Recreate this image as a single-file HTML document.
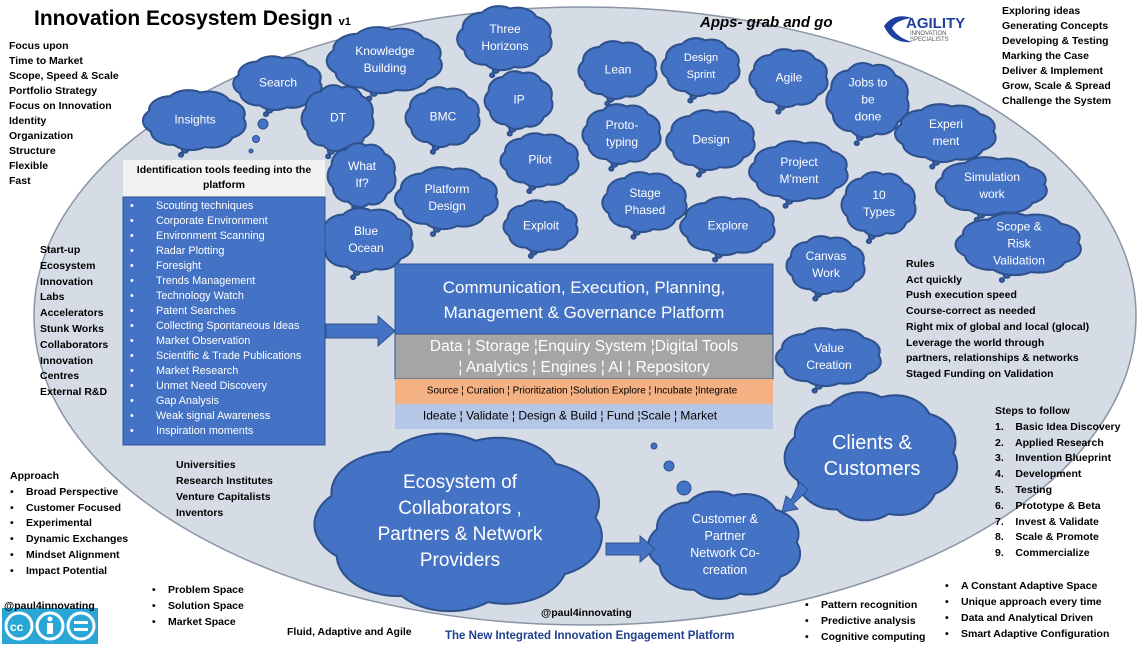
<!DOCTYPE html>
<html><head><meta charset="utf-8">
<style>
body{margin:0;width:1146px;height:644px;overflow:hidden;background:#fff;font-family:"Liberation Sans",sans-serif;position:relative}
.t{position:absolute;font-weight:bold;font-size:10.5px;line-height:15px;color:#000;white-space:nowrap}
.c{position:absolute;color:#fff;text-align:center;font-size:12px;line-height:17px;transform:translate(-50%,-50%);white-space:nowrap}
ul{margin:0;padding:0;list-style:none}
.b li:before{content:"•";display:inline-block;width:16px}
.w li:before{content:"•";display:inline-block;width:26px}
</style></head><body>
<svg id="s" width="1146" height="644" style="position:absolute;left:0;top:0">
<ellipse cx="585" cy="316" rx="551" ry="309" fill="#d6dce5" stroke="#8a94a4" stroke-width="1.5"/>
<g id="cl"></g>
<rect x="123" y="160" width="202" height="37" fill="#f2f2f2"/>
<rect x="123" y="197" width="202" height="248" fill="#4472c4" stroke="#2f528f"/>
<rect x="395" y="264" width="378" height="70" fill="#4472c4" stroke="#2f528f"/>
<rect x="395" y="334" width="378" height="45" fill="#a5a5a5" stroke="#2f528f"/>
<rect x="395" y="379" width="378" height="25" fill="#f4b183"/>
<rect x="395" y="404" width="378" height="25" fill="#b4c7e7"/>
<polygon points="326,324 378,324 378,316 395,331 378,346 378,338 326,338" fill="#4472c4" stroke="#2f528f"/>
<polygon points="606,543 640,543 640,536 655,549 640,562 640,555 606,555" fill="#4472c4" stroke="#2f528f"/>
<polygon points="800,482 808,490 793,504 798,509 782,512 786,496 791,500" fill="#4472c4" stroke="#2f528f"/>
<g fill="#4472c4" stroke="#2f528f">
<circle cx="654" cy="446" r="3"/><circle cx="669" cy="466" r="5"/><circle cx="684" cy="488" r="7"/>
<circle cx="263" cy="124" r="5"/><circle cx="256" cy="139" r="3.5"/><circle cx="251" cy="151" r="2"/>
</g>
<text x="700" y="27" font-family="Liberation Sans" font-weight="bold" font-style="italic" font-size="15">Apps- grab and go</text>
<g transform="translate(884,12)">
<path d="M0 14 Q10 0 28 6 Q12 8 8 16 Q14 26 28 30 Q8 32 0 14Z" fill="#1f3f9f"/>
<text x="22" y="16" font-size="15" font-weight="bold" fill="#1f3fa0" font-family="Liberation Sans">AGILITY</text>
<text x="26" y="23" font-size="6" fill="#555" font-family="Liberation Sans">INNOVATION</text>
<text x="26" y="29" font-size="6" fill="#555" font-family="Liberation Sans">SPECIALISTS</text>
</g>
<g transform="translate(2,608)">
<rect width="96" height="36" fill="#2aa6d6"/>
<circle cx="17" cy="18" r="13" fill="none" stroke="#fff" stroke-width="3"/><text x="8" y="23" font-size="12" font-weight="bold" fill="#fff" font-family="Liberation Sans">cc</text>
<circle cx="48" cy="18" r="13" fill="none" stroke="#fff" stroke-width="3"/><circle cx="48" cy="11" r="2.5" fill="#fff"/><rect x="45" y="15" width="6" height="11" fill="#fff"/>
<circle cx="79" cy="18" r="13" fill="none" stroke="#fff" stroke-width="3"/><rect x="72" y="13" width="14" height="3" fill="#fff"/><rect x="72" y="20" width="14" height="3" fill="#fff"/>
</g>
</svg>

<div class="t" style="left:34px;top:6px;font-size:21px;line-height:26px">Innovation Ecosystem Design <span style="font-size:11px">v1</span></div>
<div class="t" style="left:9px;top:39px">Focus upon<br>Time to Market<br>Scope, Speed &amp; Scale<br>Portfolio Strategy<br>Focus on Innovation<br>Identity<br>Organization<br>Structure<br>Flexible<br>Fast</div>
<div class="t" style="left:40px;top:243px;line-height:15.8px">Start-up<br>Ecosystem<br>Innovation<br>Labs<br>Accelerators<br>Stunk Works<br>Collaborators<br>Innovation<br>Centres<br>External R&amp;D</div>
<div class="t" style="left:1002px;top:4px">Exploring ideas<br>Generating Concepts<br>Developing &amp; Testing<br>Marking the Case<br>Deliver &amp; Implement<br>Grow, Scale &amp; Spread<br>Challenge the System</div>
<div class="t" style="left:906px;top:257px;line-height:15.7px">Rules<br>Act quickly<br>Push execution speed<br>Course-correct as needed<br>Right mix of global and local (glocal)<br>Leverage the world through<br>partners, relationships &amp; networks<br>Staged Funding on Validation</div>
<div class="t" style="left:995px;top:404px;line-height:15.8px">Steps to follow<ul>
<li>1.&nbsp;&nbsp;&nbsp; Basic Idea Discovery</li><li>2.&nbsp;&nbsp;&nbsp; Applied Research</li><li>3.&nbsp;&nbsp;&nbsp; Invention Blueprint</li><li>4.&nbsp;&nbsp;&nbsp; Development</li><li>5.&nbsp;&nbsp;&nbsp; Testing</li><li>6.&nbsp;&nbsp;&nbsp; Prototype &amp; Beta</li><li>7.&nbsp;&nbsp;&nbsp; Invest &amp; Validate</li><li>8.&nbsp;&nbsp;&nbsp; Scale &amp; Promote</li><li>9.&nbsp;&nbsp;&nbsp; Commercialize</li></ul></div>
<div class="t" style="left:10px;top:469px;line-height:15.8px">Approach<ul class="b"><li>Broad Perspective</li><li>Customer Focused</li><li>Experimental</li><li>Dynamic Exchanges</li><li>Mindset Alignment</li><li>Impact Potential</li></ul></div>
<div class="t" style="left:176px;top:457px;line-height:16px">Universities<br>Research Institutes<br>Venture Capitalists<br>Inventors</div>
<div class="t" style="left:4px;top:599px">@paul4innovating</div>
<div class="t" style="left:152px;top:582px;line-height:16px"><ul class="b"><li>Problem Space</li><li>Solution Space</li><li>Market Space</li></ul></div>
<div class="t" style="left:287px;top:625px">Fluid, Adaptive and Agile</div>
<div class="t" style="left:541px;top:606px">@paul4innovating</div>
<div class="t" style="left:445px;top:629px;color:#1f3f8f;font-size:11.5px">The New Integrated Innovation Engagement Platform</div>
<div class="t" style="left:805px;top:597px;line-height:16px"><ul class="b"><li>Pattern recognition</li><li>Predictive analysis</li><li>Cognitive computing</li></ul></div>
<div class="t" style="left:945px;top:578px;line-height:16px"><ul class="b"><li>A Constant Adaptive Space</li><li>Unique approach every time</li><li>Data and Analytical Driven</li><li>Smart Adaptive Configuration</li></ul></div>

<div class="t" style="left:123px;top:163px;width:202px;text-align:center;white-space:normal;font-size:10.5px;line-height:15px">Identification tools feeding into the platform</div>
<div class="t" style="left:130px;top:199px;color:#fff;font-weight:normal;font-size:10.8px;line-height:15px"><ul class="w"><li>Scouting techniques</li><li>Corporate Environment</li><li>Environment Scanning</li><li>Radar Plotting</li><li>Foresight</li><li>Trends Management</li><li>Technology Watch</li><li>Patent Searches</li><li>Collecting Spontaneous Ideas</li><li>Market Observation</li><li>Scientific &amp; Trade Publications</li><li>Market Research</li><li>Unmet Need Discovery</li><li>Gap Analysis</li><li>Weak signal Awareness</li><li>Inspiration moments</li></ul></div>

<div class="c" style="left:584px;top:300px;font-size:17px;line-height:25px">Communication, Execution, Planning,<br>Management &amp; Governance Platform</div>
<div class="c" style="left:584px;top:357px;font-size:15.5px;line-height:21px">Data ¦ Storage ¦Enquiry System ¦Digital Tools<br>¦ Analytics ¦ Engines ¦ AI ¦ Repository</div>
<div class="c" style="left:582px;top:391px;color:#000;font-size:10px">Source ¦ Curation ¦ Prioritization ¦Solution Explore ¦ Incubate ¦Integrate</div>
<div class="c" style="left:570px;top:416px;color:#000;font-size:12px">Ideate ¦ Validate ¦ Design &amp; Build ¦ Fund ¦Scale ¦ Market</div>

<div id="labels"></div>
<script>
var C=[
[195,120,100,58,"Insights"],[278,83,86,52,"Search"],[385,60,112,64,"Knowledge<br>Building"],[505,38,92,62,"Three<br>Horizons"],
[338,118,70,64,"DT"],[362,175,66,62,"What<br>If?"],[443,117,72,58,"BMC"],[519,100,66,56,"IP"],[618,70,76,56,"Lean"],
[701,67,76,56,"Design<br>Sprint",11],[789,78,76,56,"Agile"],[868,100,80,72,"Jobs to<br>be<br>done"],[946,133,98,56,"Experi<br>ment"],
[622,134,76,58,"Proto-<br>typing"],[711,140,86,58,"Design"],[540,160,76,52,"Pilot"],[799,171,96,58,"Project<br>M'ment"],
[447,198,100,60,"Platform<br>Design"],[645,202,82,58,"Stage<br>Phased"],[541,226,72,50,"Exploit"],[728,226,92,56,"Explore"],
[879,204,72,62,"10<br>Types"],[992,186,108,56,"Simulation<br>work"],[1019,244,122,60,"Scope &amp;<br>Risk<br>Validation"],
[366,240,92,62,"Blue<br>Ocean"],[826,265,76,56,"Canvas<br>Work"],[829,357,102,56,"Value<br>Creation"],
[872,456,168,124,"Clients &amp;<br>Customers",20,26],[460,522,280,172,"Ecosystem of<br>Collaborators ,<br>Partners &amp; Network<br>Providers",19,26],
[725,545,148,104,"Customer &amp;<br>Partner<br>Network Co-<br>creation",12.5,17]];
var ns="http://www.w3.org/2000/svg",g=document.getElementById("cl"),L=document.getElementById("labels");
function circ(x,y,rx,ry,st){var e=document.createElementNS(ns,"ellipse");e.setAttribute("cx",x);e.setAttribute("cy",y);e.setAttribute("rx",rx);e.setAttribute("ry",ry);
e.setAttribute("fill","#4472c4");if(st){e.setAttribute("stroke","#2f528f");e.setAttribute("stroke-width","2.2")}g.appendChild(e)}
C.forEach(function(c){var x=c[0],y=c[1],w=c[2],h=c[3],n=9,pts=[];
for(var i=0;i<n;i++){var a=i/n*2*Math.PI+0.3;pts.push([x+0.3*w*Math.cos(a),y+0.28*h*Math.sin(a),0.22*w,0.24*h])}
if(w<130){circ(x-0.1*w,y+0.52*h,3,2.5,1);circ(x-0.14*w,y+0.6*h,2,1.8,1)}
pts.forEach(function(p){circ(p[0],p[1],p[2],p[3],1)});
pts.forEach(function(p){circ(p[0],p[1],p[2]-1,p[3]-1,0)});circ(x,y,0.35*w,0.33*h,0);
var d=document.createElement("div");d.className="c";d.style.left=x+"px";d.style.top=y+"px";
if(c[5])d.style.fontSize=c[5]+"px";if(c[6])d.style.lineHeight=c[6]+"px";d.innerHTML=c[4];L.appendChild(d)});
</script>
</body></html>
